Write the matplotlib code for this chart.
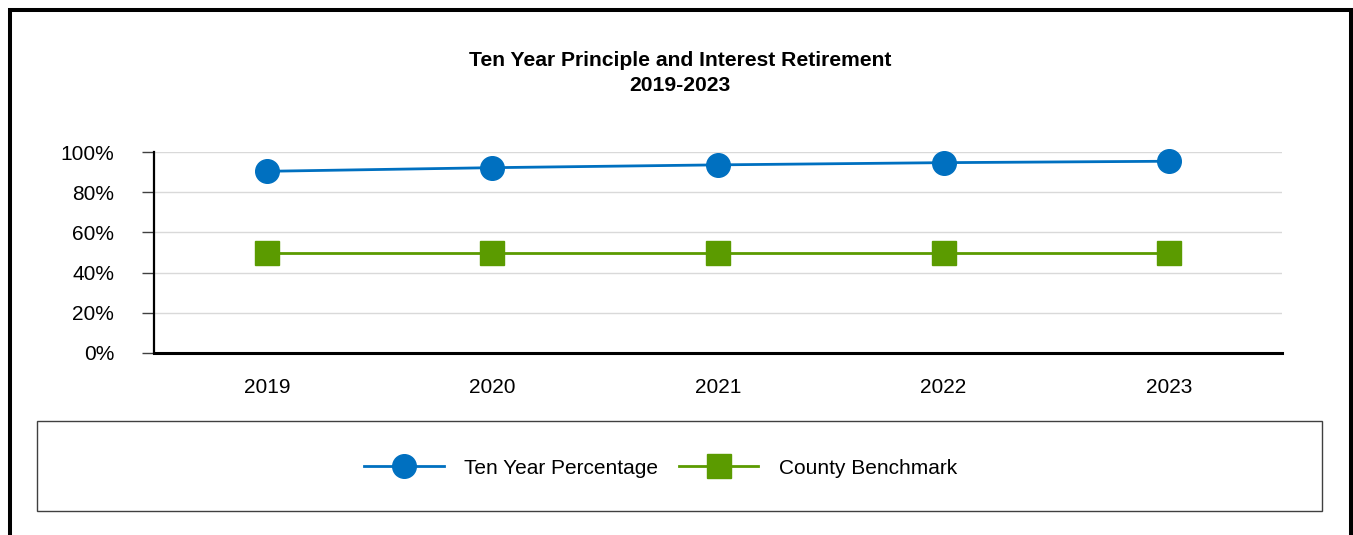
import matplotlib.pyplot as plt
from matplotlib.patches import Rectangle
from matplotlib.ticker import FuncFormatter

plt.rcParams['font.family'] = ['Liberation Sans', 'DejaVu Sans']

years = ['2019', '2020', '2021', '2022', '2023']
ten_year_pct = [90.4, 92.2, 93.6, 94.7, 95.4]
county_benchmark = [50, 50, 50, 50, 50]
y_ticks = [0, 20, 40, 60, 80, 100]

W, H = 1353, 535
fig = plt.figure(figsize=(W / 100, H / 100), dpi=100)

# outer border
fig.patches.append(Rectangle((10 / W, -0.1), 1341 / W, 1.1 - 9.5 / H, transform=fig.transFigure,
                             fill=False, edgecolor='black', linewidth=2.9, clip_on=False))

# title
fig.text(680 / W, 1 - 73 / H, 'Ten Year Principle and Interest Retirement\n2019-2023',
         ha='center', va='center', fontsize=15.2, fontweight='bold', linespacing=1.4)

ax = fig.add_axes([154 / W, 1 - 353 / H, (1282 - 154) / W, (353 - 152) / H])
x = list(range(len(years)))
ax.plot(x, ten_year_pct, color='#0070C0', linewidth=2, marker='o', markersize=17,
        label='Ten Year Percentage', zorder=3, clip_on=False)
ax.plot(x, county_benchmark, color='#5B9B00', linewidth=2, marker='s', markersize=17,
        label='County Benchmark', zorder=3, clip_on=False)

ax.set_xlim(-0.5, len(years) - 0.5)
ax.set_ylim(0, 100)
ax.set_yticks(y_ticks)
ax.yaxis.set_major_formatter(FuncFormatter(lambda v, p: f'{v:.0f}%'))
ax.set_xticks(x)
ax.set_xticklabels(years)
ax.grid(axis='y', color='#D9D9D9', linewidth=1)
ax.set_axisbelow(True)
for s in ['top', 'right']:
    ax.spines[s].set_visible(False)
ax.spines['left'].set_linewidth(1.6)
ax.spines['bottom'].set_linewidth(2.2)
ax.tick_params(axis='y', length=8.6, width=1, color='#404040', labelsize=15, pad=20)
ax.tick_params(axis='x', length=0, labelsize=15, pad=18)

# legend box
fig.patches.append(Rectangle((37 / W, 1 - 511 / H), (1322 - 37) / W, (511 - 421) / H,
                             transform=fig.transFigure, fill=False, edgecolor='#404040', linewidth=1))
fig.legend(loc='center', bbox_to_anchor=(661 / W, 1 - 468 / H), ncol=2, frameon=False,
           fontsize=15, handlelength=3.8, handletextpad=1.0, columnspacing=1.0)

plt.savefig('out.png', dpi=100)
